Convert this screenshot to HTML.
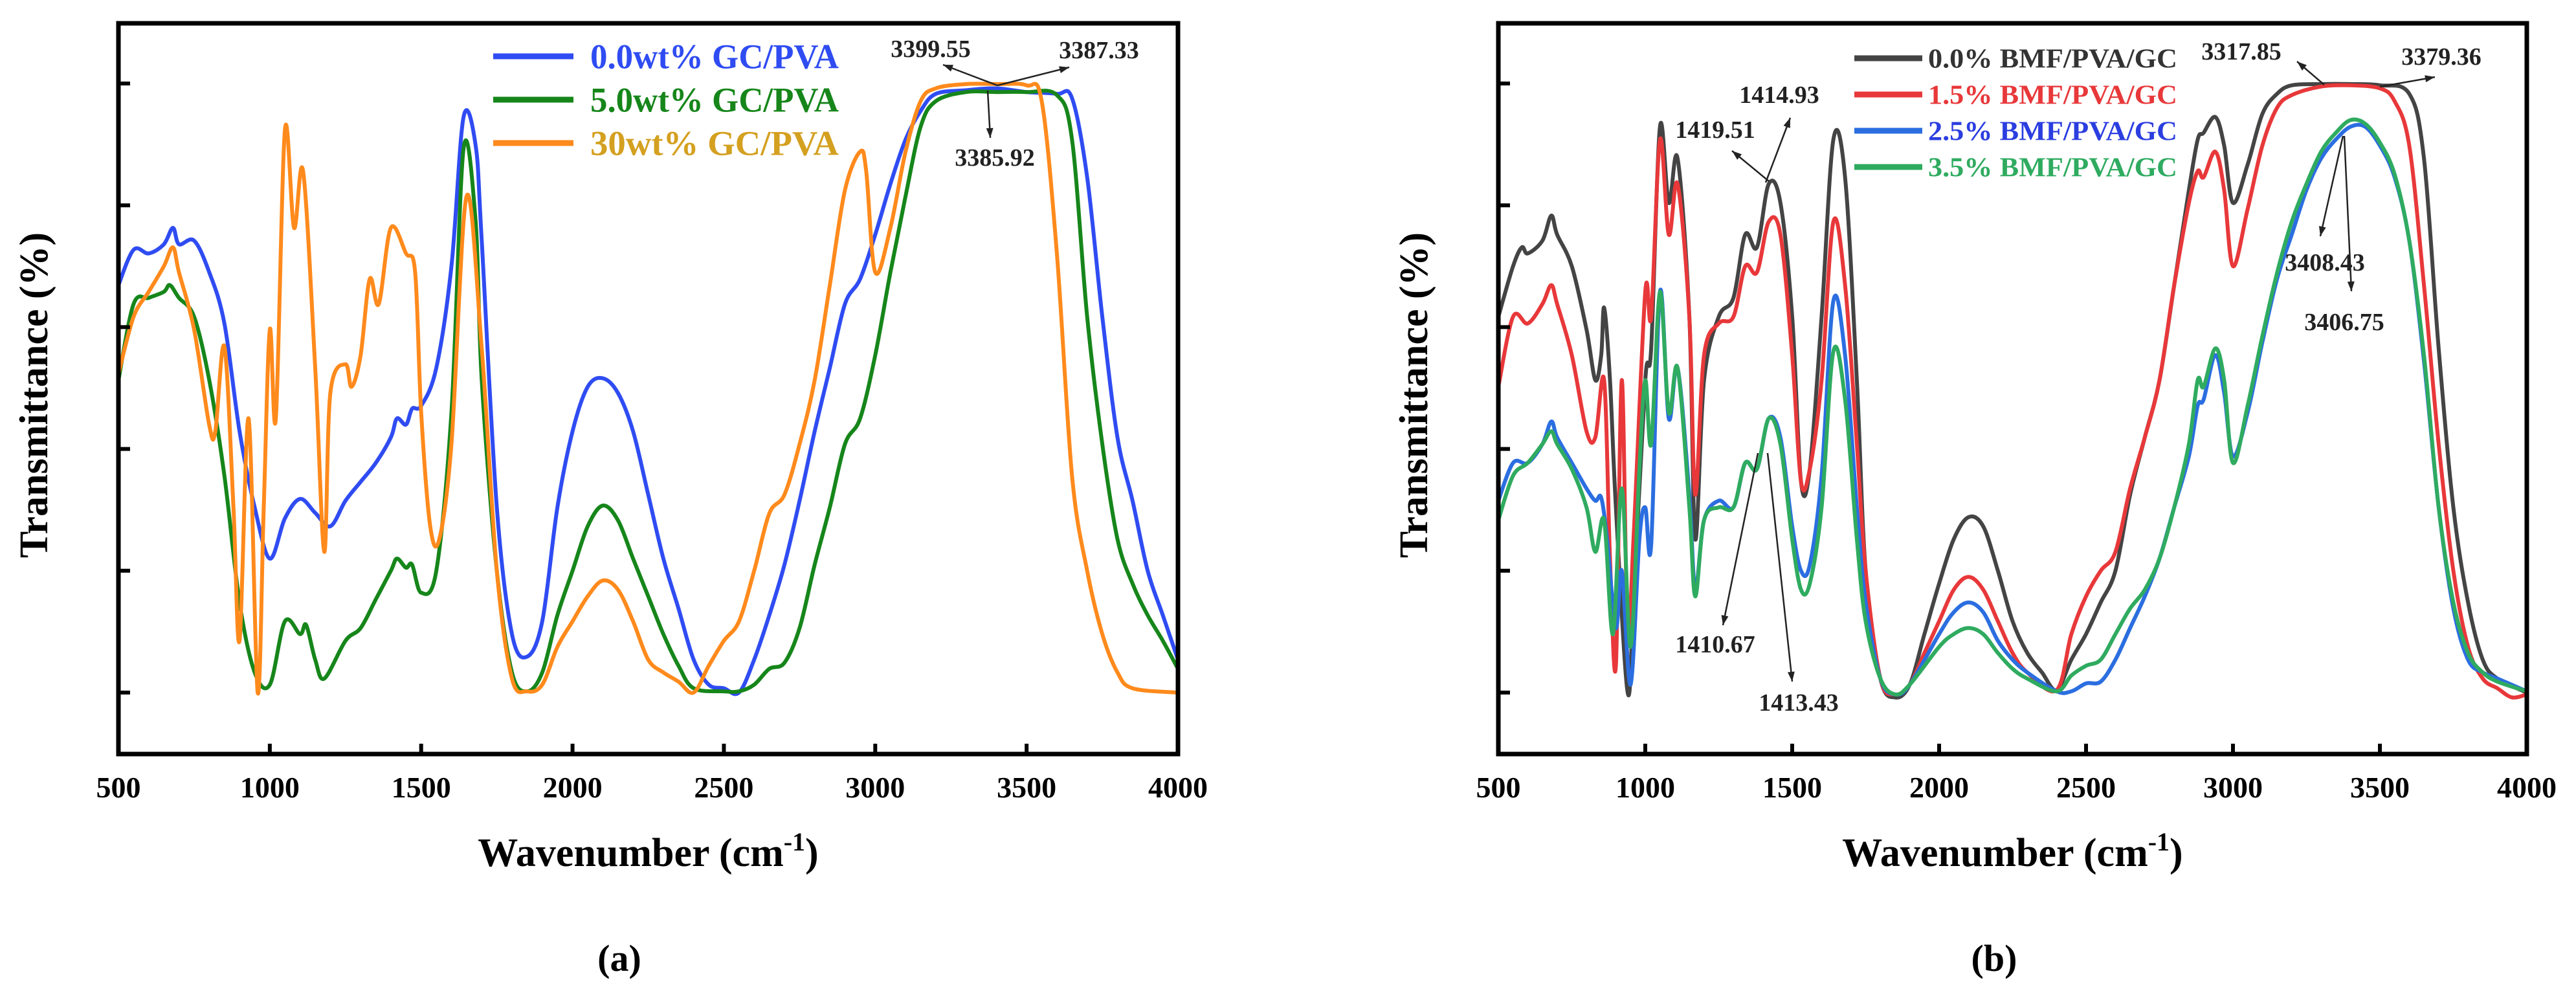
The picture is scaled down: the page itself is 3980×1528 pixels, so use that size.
<!DOCTYPE html>
<html><head><meta charset="utf-8">
<style>
html,body{margin:0;padding:0;background:#fff;}
svg{display:block;font-family:"Liberation Serif",serif;}
</style></head>
<body>
<svg id="chart" width="3980" height="1528" viewBox="0 0 3980 1528" xmlns="http://www.w3.org/2000/svg"></svg>
<script>
// ---------- data ----------
const xTicks = [500,1000,1500,2000,2500,3000,3500,4000];
const yTicks = [0,20,40,60,80,100];

const aLabels = ["0.0wt% GC/PVA","5.0wt% GC/PVA","30wt%  GC/PVA"];
const aBlue = [[500,66.9],[550,72.7],[600,72.1],[650,73.6],[680,76.3],[700,73.6],[750,74.2],[800,69],[850,60.6],[900,42.9],[950,30.4],[1000,22],[1050,28.6],[1100,31.8],[1150,29.5],[1200,27.3],[1250,31.5],[1300,34.6],[1350,37.7],[1400,41.9],[1420,45],[1450,44],[1470,46.6],[1500,47.1],[1550,53.3],[1600,70],[1640,94.5],[1680,89.8],[1700,74.2],[1750,30.4],[1800,9.6],[1850,5.9],[1900,11.7],[1950,30.4],[2000,42.9],[2050,50.2],[2100,51.6],[2150,49.2],[2200,42.9],[2250,32.5],[2300,22],[2350,13.8],[2400,5.4],[2450,1.3],[2500,0.7],[2550,0],[2600,5.4],[2650,12.7],[2700,21],[2750,31.5],[2800,42.9],[2850,53.3],[2900,63.8],[2950,67.9],[3000,75.2],[3050,83.5],[3100,90.8],[3150,95.5],[3200,98.3],[3300,98.9],[3400,99.2],[3500,98.6],[3600,98.3],[3650,97.6],[3700,84.6],[3750,61.7],[3800,41.9],[3850,31.5],[3900,20],[3950,12.7],[4000,5.4]];
const aGreen = [[500,51.3],[550,63.8],[600,64.8],[650,65.8],[670,66.9],[700,64.8],[750,61.7],[800,51.3],[850,35.6],[900,14.8],[950,3.3],[1000,1.3],[1050,11.7],[1100,9.6],[1120,11.1],[1150,5.4],[1180,2.3],[1250,8.5],[1300,10.6],[1350,15.3],[1400,20],[1420,22],[1450,20.5],[1470,21],[1500,16.4],[1550,20],[1600,46],[1640,89.3],[1680,77.3],[1700,51.3],[1750,20],[1800,3.3],[1850,0.2],[1900,3.3],[1950,12.7],[2000,20],[2050,27.3],[2100,30.7],[2150,28.3],[2200,22],[2250,15.8],[2300,9.6],[2350,4.4],[2400,0.7],[2500,0.2],[2550,0.2],[2600,1.3],[2650,3.9],[2700,4.9],[2750,10.6],[2800,21],[2850,30.4],[2900,40.8],[2950,45],[3000,55.4],[3050,69],[3100,81.5],[3150,92.9],[3200,97.1],[3300,98.6],[3400,98.6],[3500,98.6],[3600,98.1],[3650,90.8],[3700,61.7],[3750,40.8],[3800,25.2],[3850,17.9],[3900,12.7],[3950,8.5],[4000,3.9]];
const aOrange = [[500,52.3],[550,61.7],[600,65.8],[650,70],[680,73.1],[700,69],[750,59.6],[800,43.9],[820,42.9],[850,56.8],[880,30.4],[900,8.5],[930,45],[960,0],[980,30.4],[1000,59.6],[1020,45],[1050,92.4],[1080,76.3],[1110,85.6],[1150,53.3],[1180,23.1],[1200,49.2],[1250,53.9],[1270,50.2],[1300,55.4],[1330,67.9],[1360,63.8],[1400,76.3],[1450,72.1],[1480,69],[1500,46],[1530,27.3],[1560,25.2],[1600,40.8],[1650,81.5],[1700,56.5],[1750,20],[1800,2.3],[1850,0.2],[1900,1.3],[1950,7.5],[2000,11.7],[2050,15.8],[2100,18.4],[2150,16.9],[2200,11.7],[2250,5.4],[2300,3.3],[2350,1.8],[2400,0],[2450,4.4],[2500,8.5],[2550,11.7],[2600,20],[2650,29.4],[2700,32.5],[2750,40.8],[2800,51.3],[2850,66.9],[2900,82.5],[2950,88.8],[2970,85.6],[3000,69],[3050,76.3],[3100,88.8],[3150,97.1],[3200,99.2],[3300,99.9],[3400,99.9],[3500,99.7],[3550,97.1],[3600,72.1],[3650,35.6],[3700,20],[3750,9.6],[3800,3.3],[3850,0.7],[4000,0]];

const bLabels = ["0.0% BMF/PVA/GC","1.5% BMF/PVA/GC","2.5% BMF/PVA/GC","3.5% BMF/PVA/GC"];
const bBlack = [[500,61.7],[550,70],[580,73.1],[600,72.1],[650,74.2],[680,78.3],[700,75.2],[750,70],[800,59.6],[830,51.3],[850,55.4],[860,63.2],[880,51.3],[900,30.4],[940,0],[960,14.8],[1000,51.3],[1020,56.5],[1050,92.9],[1080,80.4],[1110,87.7],[1150,61.7],[1170,25.2],[1200,51.3],[1250,61.7],[1300,64.8],[1340,75.2],[1380,73.1],[1420,83.5],[1460,80.4],[1500,61.7],[1530,34.6],[1560,36.7],[1600,61.7],[1640,90.8],[1680,84.6],[1720,51.3],[1750,20],[1800,2.3],[1850,-0.8],[1900,1.3],[1950,9.6],[2000,17.9],[2050,25.2],[2100,28.8],[2150,27.3],[2200,20],[2250,11.7],[2300,6.5],[2350,3.3],[2400,0.4],[2450,5.4],[2500,9.6],[2550,14.8],[2600,20],[2650,32.5],[2700,41.9],[2750,51.3],[2800,66.9],[2850,82.5],[2880,90.8],[2900,91.9],[2940,94.5],[2970,89.8],[3000,80.4],[3050,86.7],[3100,95],[3150,98.3],[3200,99.7],[3300,99.9],[3400,99.9],[3500,99.7],[3600,98.3],[3650,87.7],[3700,56.5],[3750,30.4],[3800,14.8],[3850,5.4],[3900,2.3],[4000,0]];
const bRed = [[500,50.2],[550,61.7],[600,60.6],[650,63.8],[680,66.9],[700,63.8],[750,55.4],[800,42.9],[830,41.9],[860,51.3],[880,22],[900,4.4],[920,51.3],[940,9.6],[960,25.2],[1000,65.8],[1020,61.7],[1050,90.8],[1080,75.2],[1110,83.5],[1150,61.7],[1170,32.5],[1200,55.4],[1250,60.6],[1300,61.7],[1340,70],[1380,69],[1420,77.3],[1460,75.2],[1500,55.4],[1530,34.6],[1560,36.7],[1600,51.3],[1640,77.3],[1680,66.9],[1720,40.8],[1750,20],[1800,2.3],[1850,-0.3],[1900,1.3],[1950,6.5],[2000,11.7],[2050,16.9],[2100,19],[2150,16.9],[2200,11.7],[2250,6.5],[2300,3.3],[2400,0.4],[2450,9.6],[2500,15.8],[2550,20],[2600,23.1],[2650,33.5],[2700,41.9],[2750,51.3],[2800,66.9],[2850,80.4],[2880,85.6],[2900,84.6],[2940,88.8],[2970,82.5],[3000,70],[3050,79.4],[3100,89.8],[3150,96],[3200,98.1],[3300,99.5],[3400,99.7],[3500,99.2],[3550,97.1],[3600,89.8],[3650,66.9],[3700,40.8],[3750,20],[3800,7.5],[3850,2.3],[3900,0.7],[3950,-0.8],[4000,-0.3]];
const bBlue = [[500,31.5],[550,37.7],[600,37.7],[650,40.8],[680,44.5],[700,41.9],[750,37.7],[800,33.5],[830,31.5],[850,32],[870,25.2],[900,10.6],[920,20],[950,1.3],[980,25.2],[1000,30.4],[1020,24.2],[1050,65.8],[1080,45],[1110,53.3],[1150,32.5],[1170,16.9],[1200,28.3],[1250,31.5],[1300,30.4],[1340,37.7],[1380,36.7],[1420,45],[1460,41.9],[1500,27.3],[1530,20],[1560,21],[1600,35.6],[1640,64.3],[1680,55.4],[1720,30.4],[1750,14.8],[1800,2.3],[1850,-0.3],[1900,1.3],[2000,9.6],[2050,13.2],[2100,14.8],[2150,13.2],[2200,8.5],[2250,5.4],[2300,3.3],[2400,0.2],[2450,0.2],[2500,1.5],[2550,1.8],[2600,5.4],[2650,10.6],[2700,15.8],[2750,22],[2800,30.4],[2850,38.8],[2880,47.1],[2900,48.1],[2940,55.4],[2970,49.2],[3000,38.8],[3050,46],[3100,57.5],[3150,67.9],[3200,75.2],[3250,82.5],[3300,87.7],[3350,90.8],[3400,92.9],[3450,92.9],[3500,89.8],[3550,84.6],[3600,74.2],[3650,54.4],[3700,30.4],[3750,13.8],[3800,5.4],[3850,3.3],[3900,2.3],[4000,0.2]];
const bGreen = [[500,28.3],[550,35.6],[600,37.7],[650,40.8],[680,42.9],[700,40.8],[750,36.7],[800,30.4],[830,23.1],[860,28.3],[890,9.6],[920,33.5],[950,7.5],[980,36.7],[1000,51.3],[1020,40.8],[1050,65.8],[1080,46],[1110,53.3],[1150,30.4],[1170,15.8],[1200,28.3],[1250,30.4],[1300,30.4],[1340,37.7],[1380,36.7],[1420,45],[1460,40.8],[1500,25.2],[1530,16.9],[1560,17.9],[1600,30.4],[1640,56],[1680,48.1],[1720,25.2],[1750,11.7],[1800,2.3],[1850,-0.3],[1900,1.3],[2000,7.5],[2050,9.6],[2100,10.6],[2150,9.6],[2200,6.5],[2250,3.9],[2300,2.3],[2400,0.2],[2450,2.8],[2500,4.4],[2550,5.4],[2600,9.6],[2650,13.8],[2700,16.9],[2750,22],[2800,30.4],[2850,40.8],[2880,51.3],[2900,50.2],[2940,56.5],[2970,51.3],[3000,37.7],[3050,47.1],[3100,58.5],[3150,68.9],[3200,77.3],[3250,83.5],[3300,88.8],[3350,91.9],[3400,94],[3450,93.4],[3500,90.3],[3550,85.1],[3600,74.2],[3650,55.4],[3700,30.4],[3750,14.8],[3800,6.5],[3850,3.3],[3900,1.8],[4000,0.2]];

// ---------- drawing ----------
const NS = "http://www.w3.org/2000/svg";
const svg = document.getElementById("chart");
function mk(tag, attrs, parent){
  const e = document.createElementNS(NS, tag);
  for (const k in attrs) e.setAttribute(k, attrs[k]);
  (parent||svg).appendChild(e);
  return e;
}
const Y0 = 1070, Y100 = 129, TOP = 36, BOT = 1165;
function yScale(t){ return Y0 - (t/100)*(Y0-Y100); }

function smoothPath(pts){
  let d = "M" + pts[0][0].toFixed(1) + " " + pts[0][1].toFixed(1);
  for (let i = 0; i < pts.length-1; i++){
    const p0 = pts[Math.max(0,i-1)], p1 = pts[i], p2 = pts[i+1], p3 = pts[Math.min(pts.length-1,i+2)];
    const c1x = p1[0] + (p2[0]-p0[0])/6, c1y = p1[1] + (p2[1]-p0[1])/6;
    const c2x = p2[0] - (p3[0]-p1[0])/6, c2y = p2[1] - (p3[1]-p1[1])/6;
    d += ` C${c1x.toFixed(1)} ${c1y.toFixed(1)} ${c2x.toFixed(1)} ${c2y.toFixed(1)} ${p2[0].toFixed(1)} ${p2[1].toFixed(1)}`;
  }
  return d;
}

function panel(id, L, R, series, colors, names, labels, legend, letter, letterX){
  const g = mk("g", {});
  
  
  const xs = w => L + (w-500)/3500*(R-L);
  series.forEach((s, i) => {
    const pts = s.map(p => [xs(p[0]), yScale(p[1])]);
    const p = mk("path", {d: smoothPath(pts), fill: "none", stroke: colors[i], "stroke-width": 6, "stroke-linejoin": "round", "stroke-linecap": "round"}, g);
    
    
  });
  const f = mk("rect", {x: L, y: TOP, width: R-L, height: BOT-TOP, fill: "none", stroke: "#000", "stroke-width": 7}, g);
  
  
  yTicks.forEach(t => {
    const tk = mk("line", {x1: L, x2: L+18, y1: yScale(t), y2: yScale(t), stroke: "#000", "stroke-width": 6}, g);
    
    
  });
  xTicks.forEach(w => {
    const tk = mk("line", {x1: xs(w), x2: xs(w), y1: BOT, y2: BOT-16, stroke: "#000", "stroke-width": 6}, g);
    
    
    const tl = mk("text", {x: xs(w), y: 1232, "text-anchor": "middle", "font-size": 46, "font-weight": "bold"}, g);
    tl.textContent = w;
    
    
  });
  const xt = mk("text", {x: (L+R)/2, y: 1338, "text-anchor": "middle", "font-size": 62, "font-weight": "bold"}, g);
  xt.innerHTML = 'Wavenumber (cm<tspan dy="-24" font-size="40">-1</tspan><tspan dy="24">)</tspan>';
  
  
  const yt = mk("text", {x: 0, y: 0, "text-anchor": "middle", "font-size": 62, "font-weight": "bold", transform: `translate(${L-110},${(TOP+BOT)/2+10}) rotate(-90)`}, g);
  yt.textContent = "Transmittance (%)";
  
  
  labels.forEach((lab, i) => {
    const ly = legend.y0 + i*legend.dy;
    const ll = mk("line", {x1: legend.x1, x2: legend.x2, y1: ly, y2: ly, stroke: colors[i], "stroke-width": 9}, g);
    
    
    const lt = mk("text", {x: legend.tx, y: ly+legend.fs*0.34, "font-size": legend.fs, "font-weight": "bold", fill: legend.tc[i], textLength: legend.tl, lengthAdjust: "spacingAndGlyphs"}, g);
    lt.textContent = lab;
    
    
  });
  const lt = mk("text", {x: letterX, y: 1500, "text-anchor": "middle", "font-size": 58, "font-weight": "bold"}, g);
  lt.textContent = letter;
  
  
  return g;
}

panel("panel-a", 183, 1820, [aBlue, aGreen, aOrange], ["#2f4cf2","#16861a","#ff8a1c"],
  ["series-0wt","series-5wt","series-30wt"], aLabels,
  {y0: 87, dy: 67, x1: 762, x2: 886, tx: 912, fs: 54, tl: 384, tc: ["#2f4cf2","#16861a","#d4a020"]}, "(a)", 957);
panel("panel-b", 2315, 3904, [bBlack, bRed, bBlue, bGreen], ["#444","#e8383a","#2b6ee0","#2fab60"],
  ["series-0pct","series-1-5pct","series-2-5pct","series-3-5pct"], bLabels,
  {y0: 90, dy: 56, x1: 2865, x2: 2970, tx: 2979, fs: 42, tl: 385, tc: ["#333","#e8383a","#2b3ee0","#2fab60"]}, "(b)", 3081);

function ann(txt, x, y){
  const t = mk("text", {x: x, y: y, "text-anchor": "middle", "font-size": 38, "font-weight": "bold", fill: "#222"});
  t.textContent = txt;
  
  
}
function arr(x1,y1,x2,y2){
  const l = mk("line", {x1:x1,y1:y1,x2:x2,y2:y2,stroke:"#222","stroke-width":2.5});
  
  
  const a = Math.atan2(y2-y1, x2-x1), s = 16;
  const h = mk("polygon", {points: `${x2},${y2} ${x2-s*Math.cos(a-0.35)},${y2-s*Math.sin(a-0.35)} ${x2-s*Math.cos(a+0.35)},${y2-s*Math.sin(a+0.35)}`, fill:"#222"});
  
  
}
// panel a annotations
ann("3399.55", 1438, 88); ann("3387.33", 1698, 90); ann("3385.92", 1537, 256);
arr(1541,132,1457,100); arr(1541,132,1652,104); arr(1526,140,1530,213);
// panel b annotations
ann("3317.85", 3463, 92); ann("3379.36", 3772, 100);
ann("1414.93", 2749, 159); ann("1419.51", 2650, 213);
ann("1410.67", 2650, 1008); ann("1413.43", 2779, 1098);
ann("3408.43", 3592, 418); ann("3406.75", 3622, 510);
arr(3591,131,3549,95); arr(3677,134,3762,119);
arr(2728,282,2766,182); arr(2733,280,2676,233);
arr(2716,700,2662,966); arr(2731,700,2769,1053);
arr(3620,210,3585,365); arr(3622,210,3633,450);
</script>
</body></html>
